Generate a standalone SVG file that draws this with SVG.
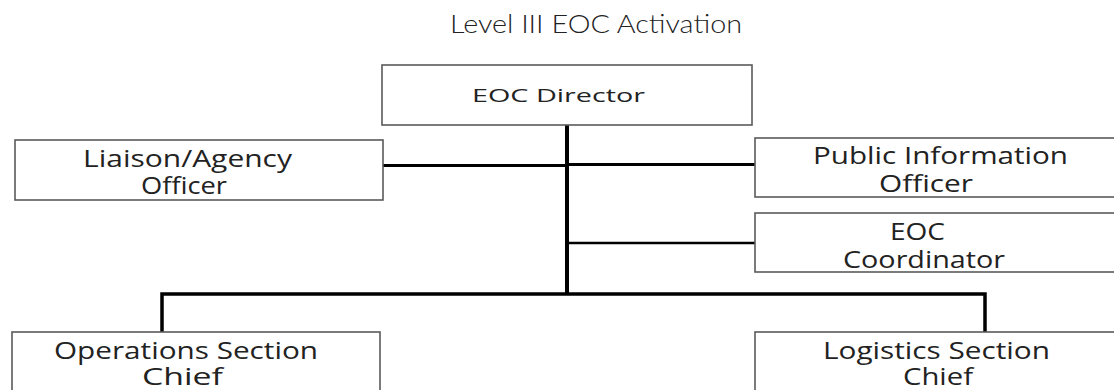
<svg xmlns="http://www.w3.org/2000/svg" width="1114" height="390" viewBox="0 0 1114 390">
<style>
.box{fill:#fff;stroke:#5a5a5a;stroke-width:1.6}
.t{font-family:"Open Sans","Liberation Sans",sans-serif;font-size:24.5px;fill:#222}
.ts{font-family:"Open Sans","Liberation Sans",sans-serif;font-size:17.4px;fill:#222}
.title{font-family:Lato,"Open Sans","Liberation Sans",sans-serif;font-weight:300;font-size:25px;fill:#222}
.c{stroke:#000;fill:none;stroke-linecap:square}
</style>
<rect width="1114" height="390" fill="#fff"/>
<text class="title" x="450" y="33.3" textLength="292" lengthAdjust="spacingAndGlyphs">Level III EOC Activation</text>
<g id="connectors">
<line class="c" x1="567" y1="125" x2="567" y2="293" stroke-width="4"/>
<line class="c" x1="383" y1="165.5" x2="567" y2="165.5" stroke-width="3"/>
<line class="c" x1="567" y1="164.5" x2="755" y2="164.5" stroke-width="3"/>
<line class="c" x1="567" y1="243" x2="755" y2="243" stroke-width="2.5"/>
<path class="c" d="M162 332 V294 H985 V332" stroke-width="3.5" stroke-linecap="butt"/>
</g>
<g id="director">
<rect class="box" x="382" y="65" width="370" height="60"/>
<text class="ts" x="472" y="101.7" textLength="173" lengthAdjust="spacingAndGlyphs">EOC Director</text>
</g>
<g id="liaison">
<rect class="box" x="15" y="140" width="368" height="60"/>
<text class="t" x="83" y="166.5" textLength="209" lengthAdjust="spacingAndGlyphs">Liaison/Agency</text>
<text class="t" x="141" y="194" textLength="86" lengthAdjust="spacingAndGlyphs">Officer</text>
</g>
<g id="pio">
<rect class="box" x="755" y="138" width="400" height="59"/>
<text class="t" x="813" y="164" textLength="255" lengthAdjust="spacingAndGlyphs">Public Information</text>
<text class="t" x="879" y="192" textLength="94" lengthAdjust="spacingAndGlyphs">Officer</text>
</g>
<g id="coordinator">
<rect class="box" x="755" y="213" width="400" height="59"/>
<text class="t" x="890" y="240.3" textLength="55" lengthAdjust="spacingAndGlyphs">EOC</text>
<text class="t" x="843" y="268" textLength="162" lengthAdjust="spacingAndGlyphs">Coordinator</text>
</g>
<g id="operations">
<rect class="box" x="12" y="332" width="368" height="70"/>
<text class="t" x="54" y="358.5" textLength="264" lengthAdjust="spacingAndGlyphs">Operations Section</text>
<text class="t" x="142" y="385.3" textLength="81" lengthAdjust="spacingAndGlyphs">Chief</text>
</g>
<g id="logistics">
<rect class="box" x="755" y="332" width="400" height="70"/>
<text class="t" x="823" y="358.5" textLength="227" lengthAdjust="spacingAndGlyphs">Logistics Section</text>
<text class="t" x="903" y="385.3" textLength="70" lengthAdjust="spacingAndGlyphs">Chief</text>
</g>
</svg>
